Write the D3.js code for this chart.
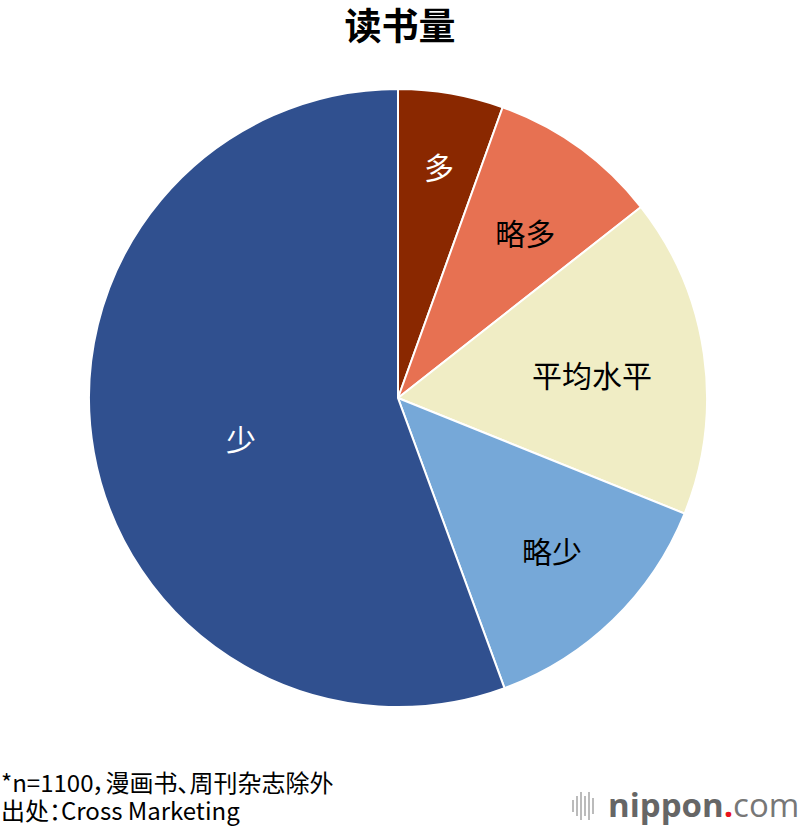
<!DOCTYPE html>
<html>
<head>
<meta charset="utf-8">
<script src="https://cdn.jsdelivr.net/npm/d3@7"></script>
<style>
  body { margin: 0; background: #fff; }
  svg { display: block; font-family: "Noto Sans CJK SC", "Noto Sans", sans-serif; }
  .note { font-feature-settings: "palt"; }
</style>
</head>
<body>
<svg id="chart" width="800" height="828"></svg>
<script>
// 读书量 share (%), clockwise from 12 o'clock
var categories = ["多", "略多", "平均水平", "略少", "少"];
var values = [5.5, 8.9, 16.7, 13.3, 55.6];
var colors = ["#8a2800", "#e77152", "#f0edc5", "#76a8d8", "#30508f"];
var labelColors = ["#fff", "#000", "#000", "#000", "#fff"];
var labelRadius = [0.756, 0.671, 0.632, 0.705, 0.526];
var labelShift = [0.2, 2.0, 1.6, -0.9, -4.9]; // degrees off the slice bisector

var svg = d3.select("#chart");
var cx = 398, cy = 398, r = 309;

svg.append("text")
  .attr("x", 400).attr("y", 40)
  .attr("text-anchor", "middle")
  .attr("font-size", 37).attr("font-weight", "bold")
  .text("读书量");

var pie = d3.pie().sort(null).value(function(d) { return d; });
var arcs = pie(values);
var arc = d3.arc().innerRadius(0).outerRadius(r);

var g = svg.append("g").attr("transform", "translate(" + cx + "," + cy + ")");

g.selectAll("path")
  .data(arcs)
  .enter().append("path")
  .attr("d", arc)
  .attr("fill", function(d, i) { return colors[i]; })
  .attr("stroke", "#fff")
  .attr("stroke-width", 2);

g.selectAll("text.lbl")
  .data(arcs)
  .enter().append("text")
  .attr("class", "lbl")
  .attr("transform", function(d, i) {
    var a = (d.startAngle + d.endAngle) / 2 + labelShift[i] * Math.PI / 180;
    var rr = r * labelRadius[i];
    return "translate(" + (Math.sin(a) * rr) + "," + (-Math.cos(a) * rr) + ")";
  })
  .attr("text-anchor", "middle")
  .attr("dy", "0.36em")
  .attr("font-size", 30)
  .attr("fill", function(d, i) { return labelColors[i]; })
  .text(function(d, i) { return categories[i]; });

// footnote
svg.append("text").attr("class", "note").attr("x", 1).attr("y", 792).attr("font-size", 24)
  .text("*n=1100，漫画书、周刊杂志除外");
svg.append("text").attr("class", "note").attr("x", 1).attr("y", 820).attr("font-size", 24)
  .text("出处：Cross Marketing");

// logo
var logo = svg.append("g").attr("transform", "translate(572,806)");
var bars = [[0, 6], [4, 10], [8, 14], [12, 10], [16, 14], [20, 8]];
bars.forEach(function(b) {
  logo.append("rect").attr("x", b[0]).attr("y", -b[1]).attr("width", 2)
    .attr("height", b[1] * 2).attr("fill", "#bbb");
});
var lt = logo.append("text").attr("x", 36).attr("y", 11)
  .attr("font-family", "Open Sans, sans-serif").attr("font-size", 33).attr("fill", "#666");
lt.append("tspan").attr("font-weight", "bold").text("nippon");
lt.append("tspan").attr("fill", "#e8141d").attr("font-weight", "bold").text(".");
lt.append("tspan").attr("fill", "#777").text("com");
</script>
</body>
</html>
